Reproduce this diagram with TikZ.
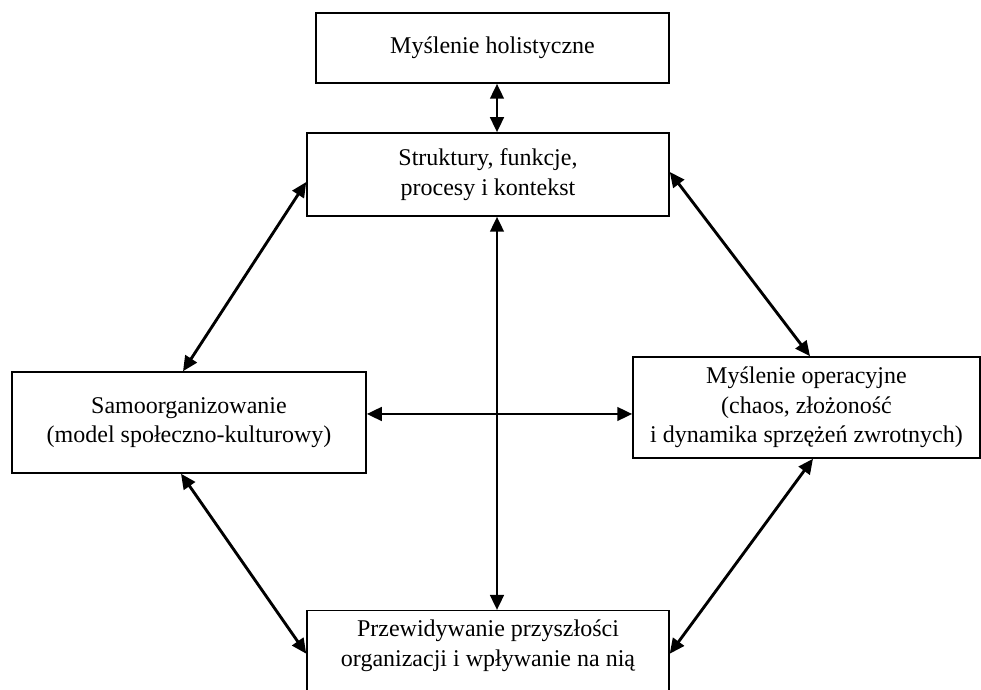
\documentclass[tikz,border=0pt]{standalone}
\usepackage{fontspec}
\setmainfont{Liberation Serif}
\usepackage{tikz}
\usetikzlibrary{calc,positioning,arrows.meta}
\tikzset{
    block/.style={draw, line width=0.6pt, inner sep=0pt, align=center,
        font=\fontsize{9.6}{11.8}\selectfont},
    link/.style={{Triangle[length=6pt,width=5.4pt]}-{Triangle[length=6pt,width=5.4pt]}, line width=1.15pt},
}

\begin{document}
\begin{tikzpicture}[x=0.4pt,y=-0.4pt]
\clip (0,0) rectangle (981,690);
%Boxes
\node[block, minimum width=141.2pt, minimum height=28pt] (hol) at (492.5,48) {My\'slenie holistyczne};
\node[block, minimum width=144.8pt, minimum height=33.2pt] (str) at (488,174.5) {Struktury, funkcje,\\procesy i kontekst};
\node[block, minimum width=141.6pt, minimum height=40.4pt] (samo) at (189,422.5) {Samoorganizowanie\\(model społeczno-kulturowy)};
\node[block, minimum width=138.8pt, minimum height=40.4pt] (oper) at (806.5,407.5) {Myślenie operacyjne\\(chaos, złożoność\\i dynamika sprzężeń zwrotnych)};
\node[block, minimum width=144.8pt, minimum height=36pt, anchor=north] (prz) at (488,610) {};
\node[font=\fontsize{9.6}{11.8}\selectfont, align=center] (prztext) at (488,646) {Przewidywanie przyszłości\\organizacji i wpływanie na nią};
\coordinate (mid) at (497,414);
%Arrows
\draw[link] (hol.south -| mid) -- (str.north -| mid);
\draw[link] (str.south -| mid) -- (prz.north -| mid);
\draw[link] (samo.east |- mid) -- (oper.west |- mid);
\draw[link] ($(str.west)+(0,7.5)$) -- ($(samo.north)+(-6,0)$);
\draw[link] ($(str.east)+(0,-2.5)$) -- ($(oper.north)+(3.5,0)$);
\draw[link] ($(samo.south)+(-8,0)$) -- ($(prz.west)+(0,-2)$);
\draw[link] ($(oper.south)+(6.5,0)$) -- ($(prz.east)+(0,-2)$);
\end{tikzpicture}
\end{document}
